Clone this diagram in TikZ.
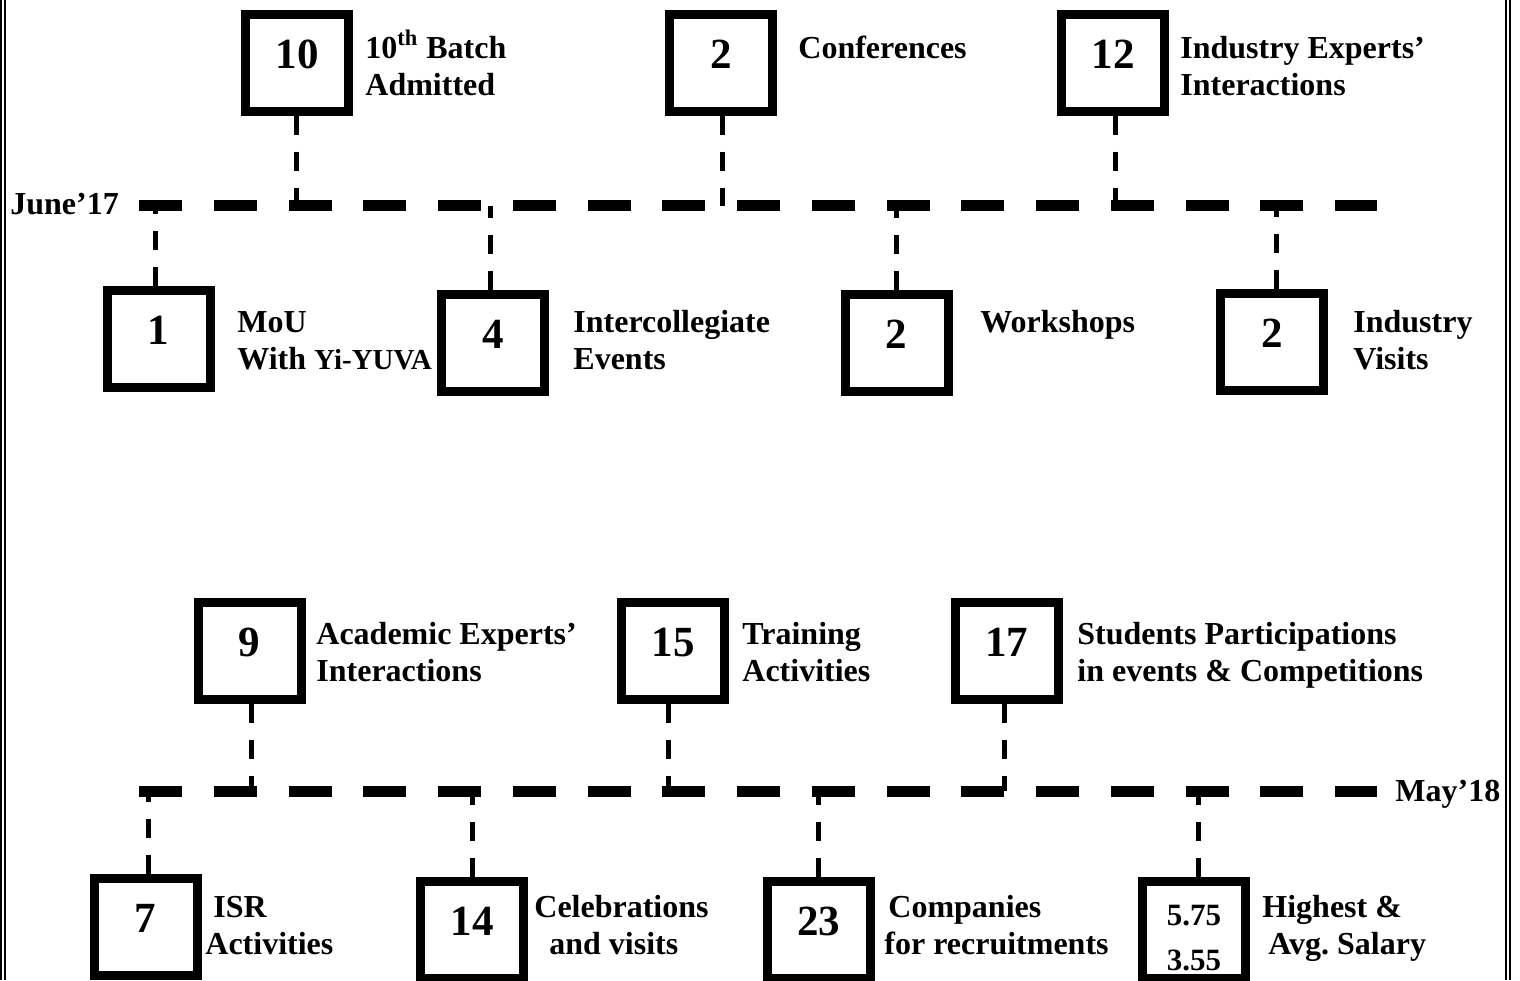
\documentclass[tikz,border=0pt]{standalone}
\usepackage{fontspec}
\setmainfont{Liberation Serif}
\begin{document}
\begin{tikzpicture}[x=0.5pt,y=-0.5pt]
\tikzset{
  box/.style={draw, line width=4.5pt, minimum width=51.5pt, minimum height=48.5pt, inner sep=0pt,
    font=\fontsize{21.5}{24}\selectfont\bfseries, text height=14.5pt, text depth=9pt},
  salbox/.style={draw, line width=4.5pt, minimum width=51.5pt, minimum height=48.5pt, inner sep=0pt},
  salnum/.style={anchor=base, inner sep=0pt, font=\fontsize{15.5}{18}\selectfont\bfseries},
  lbl/.style={anchor=base west, inner sep=0pt, font=\fontsize{16}{18.5}\selectfont\bfseries},
  tline/.style={line width=5.5pt, dash pattern=on 21.5pt off 15.875pt},
  conn/.style={line width=2.5pt, dash pattern=on 9.5pt off 8.5pt},
  frame/.style={line width=1pt}
}
\useasboundingbox (0,0) rectangle (1520,980);
% page frame (double vertical lines)
\draw[frame] (1,0) -- (1,980);
\draw[frame] (5,0) -- (5,980);
\draw[frame] (1505.5,0) -- (1505.5,980);
\draw[frame] (1510,0) -- (1510,980);

% timelines
\coordinate (s1) at (139,205.5);
\coordinate (e1) at (1377,205.5);
\coordinate (s2) at (139,791);
\coordinate (e2) at (1377,791);
\draw[tline] (s1) -- (e1);
\draw[tline] (s2) -- (e2);
\node[lbl] (june) at (10,214) {June’17};
\node[lbl] (may) at (1395,801) {May’18};

% boxes
\node[box] (A1) at (297,62.5) {10};
\node[box] (A2) at (721,62.5) {2};
\node[box] (A3) at (1113,62.5) {12};
\node[box] (B1) at (158.5,339) {1};
\node[box] (B2) at (493,343) {4};
\node[box] (B3) at (896.5,343) {2};
\node[box] (B4) at (1272,342) {2};
\node[box] (C1) at (249.5,650.5) {9};
\node[box] (C2) at (673,650.5) {15};
\node[box] (C3) at (1006.5,650.5) {17};
\node[box] (D1) at (145.5,926.5) {7};
\node[box] (D2) at (472,930) {14};
\node[box] (D3) at (818.5,930) {23};
\node[salbox] (D4) at (1194,930) {};
\node[salnum] (sal1) at (1194,925) {5.75};
\node[salnum] (sal2) at (1194,970) {3.55};

% timeline junction points
\coordinate (tA1) at (296,205.5);
\coordinate (tA2) at (722,205.5);
\coordinate (tA3) at (1115,205.5);
\coordinate (tB1) at (155.5,205.5);
\coordinate (tB2) at (490.5,205.5);
\coordinate (tB3) at (896,205.5);
\coordinate (tB4) at (1276,205.5);
\coordinate (tC1) at (251,791);
\coordinate (tC2) at (668,791);
\coordinate (tC3) at (1004,791);
\coordinate (tD1) at (148,791);
\coordinate (tD2) at (472,791);
\coordinate (tD3) at (818,791);
\coordinate (tD4) at (1198,791);

% connectors
\foreach \b in {A1,A2,A3,C1,C2,C3}{
  \draw[conn] (\b.south -| t\b) -- (t\b);
}
\foreach \b in {B1,B2,B3,B4,D1,D2,D3,D4}{
  \draw[conn] (\b.north -| t\b) -- (t\b);
}

% labels
\node[lbl] (lA1) at (365,58) {\begin{tabular}[t]{@{}l@{}}10\textsuperscript{th} Batch\\Admitted\end{tabular}};
\node[lbl] (lA2) at (798,58) {Conferences};
\node[lbl] (lA3) at (1180,58) {\begin{tabular}[t]{@{}l@{}}Industry Experts’\\Interactions\end{tabular}};
\node[lbl] (lB1) at (237,332) {\begin{tabular}[t]{@{}l@{}}MoU\\With {\fontsize{14.5}{18.5}\selectfont Yi-YUVA}\end{tabular}};
\node[lbl] (lB2) at (573,332) {\begin{tabular}[t]{@{}l@{}}Intercollegiate\\Events\end{tabular}};
\node[lbl] (lB3) at (980,332) {Workshops};
\node[lbl] (lB4) at (1353,332) {\begin{tabular}[t]{@{}l@{}}Industry\\Visits\end{tabular}};
\node[lbl] (lC1) at (316,644) {\begin{tabular}[t]{@{}l@{}}Academic Experts’\\Interactions\end{tabular}};
\node[lbl] (lC2) at (742,644) {\begin{tabular}[t]{@{}l@{}}Training\\Activities\end{tabular}};
\node[lbl] (lC3) at (1077,644) {\begin{tabular}[t]{@{}l@{}}Students Participations\\in events \& Competitions\end{tabular}};
\node[lbl] (lD1) at (205,917) {\begin{tabular}[t]{@{}l@{}}\hspace*{4pt}ISR\\Activities\end{tabular}};
\node[lbl] (lD2) at (534,917) {\begin{tabular}[t]{@{}l@{}}Celebrations\\\hspace*{7.5pt}and visits\end{tabular}};
\node[lbl] (lD3) at (884,917) {\begin{tabular}[t]{@{}l@{}}\hspace*{2pt}Companies\\for recruitments\end{tabular}};
\node[lbl] (lD4) at (1262,917) {\begin{tabular}[t]{@{}l@{}}Highest \&\\\hspace*{3pt}Avg.\ Salary\end{tabular}};
\end{tikzpicture}
\end{document}
